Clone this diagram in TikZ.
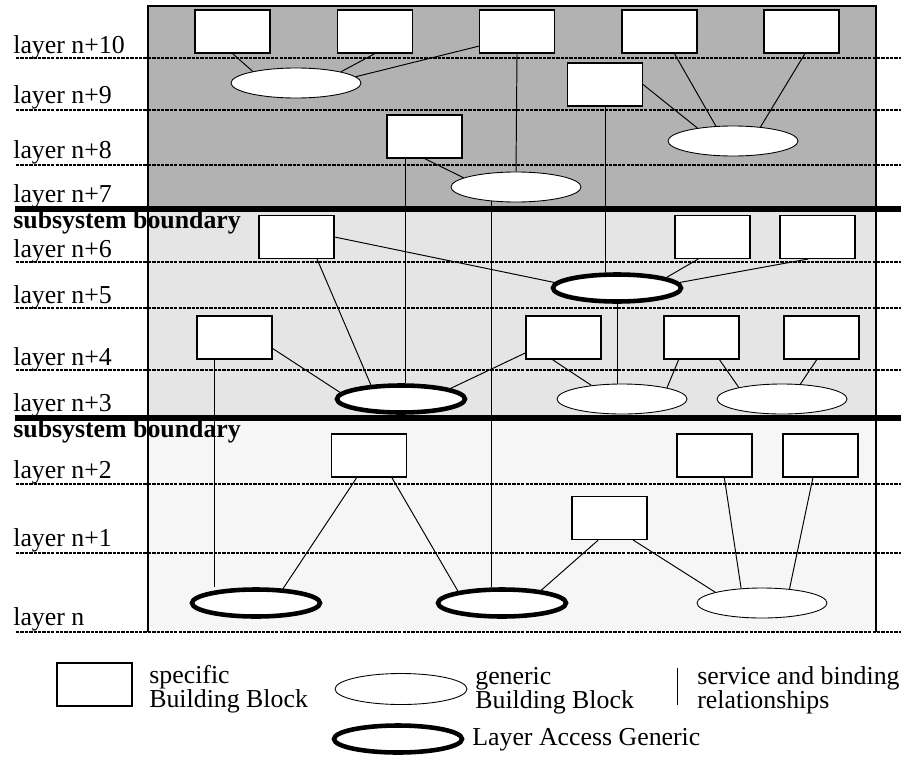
\documentclass[tikz,border=0pt]{standalone}
\usepackage{fontspec}
\setmainfont{Liberation Serif}
\usetikzlibrary{shapes.geometric}
\definecolor{bandtop}{gray}{0.70}
\definecolor{bandmid}{gray}{0.90}
\definecolor{bandlow}{gray}{0.965}
\newcommand{\twolines}[2]{\begin{tabular}[t]{@{}l@{}}#1\\#2\end{tabular}}

\begin{document}
\begin{tikzpicture}
	[x=0.02cm, y=-0.02cm, font=\fontsize{14.7}{17}\selectfont,
	spec/.style = {draw, fill=white, rectangle, line width=0.6pt, minimum width=1.5cm, minimum height=0.86cm, inner sep=0pt},
	gen/.style = {draw, fill=white, ellipse, line width=0.5pt, minimum width=2.6cm, minimum height=0.6cm, inner sep=0pt},
	acc/.style = {gen, line width=2.6pt, minimum width=2.56cm, minimum height=0.54cm},
	lay/.style = {anchor=base west, inner sep=0pt},
	key/.style = {lay, font=\fontsize{14.7}{12.9}\selectfont},
	layline/.style = {line width=1.5pt, dash pattern=on 1.9pt off 0.6pt},
	bound/.style = {line width=3.4pt},
	conn/.style = {line width=0.55pt}]
	\useasboundingbox (0,0) rectangle (901,757);
	\fill[bandtop] (148,6) rectangle (876,209);
	\fill[bandmid] (148,209) rectangle (876,418);
	\fill[bandlow] (148,418) rectangle (876,632);
	\foreach \y in {58,110,165,262,308,370,484,553,632}
		\draw[layline] (16,\y) -- (901,\y);
	\draw[bound] (15,209) -- (901,209);
	\draw[bound] (15,418) -- (901,418);
	\draw[line width=0.6pt] (148,632) -- (148,6) -- (876,6) -- (876,632);

	\foreach \t/\y in {10/53, 9/103, 8/158, 7/202, 6/257, 5/303, 4/365, 3/411, 2/478, 1/546}
		\node[lay] (l\t) at (13,\y) {layer n+\t};
	\node[lay] (l0) at (13,625) {layer n};
	\node[lay, font=\fontsize{14.7}{17}\selectfont\bfseries] (sb1) at (13,228) {subsystem boundary};
	\node[lay, font=\fontsize{14.7}{17}\selectfont\bfseries] (sb2) at (13,437) {subsystem boundary};

	% upper subsystem
	\node[spec] (s1) at (232.5,31.5) {};
	\node[spec] (s2) at (375,31.5) {};
	\node[spec] (s3) at (517,31.5) {};
	\node[spec] (s4) at (659.5,31.5) {};
	\node[spec] (s5) at (801.5,31.5) {};
	\node[spec] (s6) at (605,84.5) {};
	\node[spec] (s7) at (424.5,136.5) {};
	\node[gen] (g1) at (296,83) {};
	\node[gen] (g2) at (516,187) {};
	\node[gen] (g3) at (733,141) {};

	% middle subsystem
	\node[spec] (s8) at (296.5,237) {};
	\node[spec] (s9) at (712.5,237) {};
	\node[spec] (s10) at (817.5,237) {};
	\node[spec] (s11) at (234.5,337.5) {};
	\node[spec] (s12) at (563.5,337.5) {};
	\node[spec] (s13) at (701.5,337.5) {};
	\node[spec] (s14) at (821.5,337.5) {};
	\node[acc] (a1) at (617,288) {};
	\node[acc] (a2) at (401,399) {};
	\node[gen] (g4) at (622,399) {};
	\node[gen] (g5) at (782,399) {};

	% lower subsystem
	\node[spec] (s15) at (369,455.5) {};
	\node[spec] (s16) at (714.5,455.5) {};
	\node[spec] (s17) at (820.5,455.5) {};
	\node[spec] (s18) at (609.5,518) {};
	\node[acc] (a3) at (256,603) {};
	\node[acc] (a4) at (502,603) {};
	\node[gen] (g6) at (762,603) {};

	\draw[conn] (s1.south) -- (g1.165);
	\draw[conn] (s2.south) -- (g1.14);
	\draw[conn] (s3.201) -- (g1.6);
	\draw[conn] (s3.south) -- (g2.north);
	\draw[conn] (g2.210) -- (g2.210 |- a4.north);
	\draw[conn] (s7.229) -- (s7.229 |- a2.north);
	\draw[conn] (s7.south) -- (g2.170);
	\draw[conn] (s6.east) -- (g3.160);
	\draw[conn] (s6.south) -- (s6.south |- a1.north);
	\draw[conn] (s4.304) -- (g3.139);
	\draw[conn] (s5.279) -- (g3.27);

	\draw[conn] (s8.east) -- (a1.175);
	\draw[conn] (s8.313) -- (a2.155);
	\draw[conn] (s9.237) -- (a1.12);
	\draw[conn] (s10.247) -- (a1.5);
	\draw[conn] (a1.south) -- (a1.south |- g4.north);
	\draw[conn] (s11.344) -- (a2.174);
	\draw[conn] (s11.228) -- (s11.228 |- a3.north);
	\draw[conn] (s12.202) -- (a2.12);
	\draw[conn] (s12.243) -- (g4.156);
	\draw[conn] (s13.224) -- (g4.14);
	\draw[conn] (s13.309) -- (g5.165);
	\draw[conn] (s14.258) -- (g5.39);

	\draw[conn] (s15.241) -- (a3.28);
	\draw[conn] (s15.316) -- (a4.165);
	\draw[conn] (s18.243) -- (a4.18);
	\draw[conn] (s18.317) -- (g6.167);
	\draw[conn] (s16.294) -- (g6.145);
	\draw[conn] (s17.251) -- (g6.27);

	% key
	\node[spec] (k1) at (94.5,684.5) {};
	\node[key] (k1t) at (149,683) {\twolines{specific}{Building Block}};
	\node[gen, minimum width=2.64cm, minimum height=0.62cm] (k2) at (401,689) {};
	\node[key] (k2t) at (475,684) {\twolines{generic}{Building Block}};
	\draw[conn] (677,668) -- (677,705);
	\node[key] (k3t) at (697,684) {\twolines{service and binding}{relationships}};
	\node[acc] (k4) at (398,739) {};
	\node[key] (k4t) at (472,745) {Layer Access Generic};
\end{tikzpicture}
\end{document}
